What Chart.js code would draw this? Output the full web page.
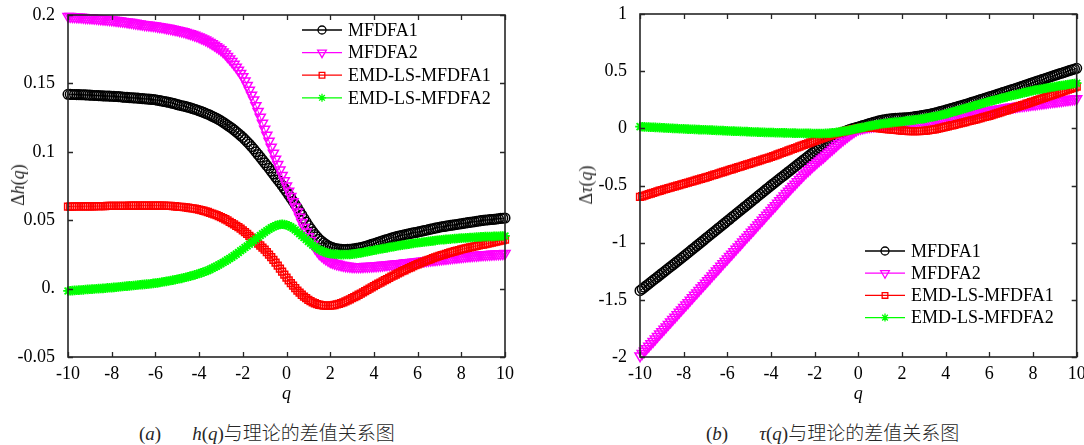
<!DOCTYPE html>
<html>
<head>
<meta charset="utf-8">
<script src="https://cdn.jsdelivr.net/npm/chart.js@4.4.1/dist/chart.umd.min.js"></script>
<style>
  html, body { margin: 0; padding: 0; background: #fff; }
  #wrap { position: relative; width: 1084px; height: 445px; overflow: hidden;
          font-family: 'Liberation Serif', 'Times New Roman', serif; color: #262626; }
  #wrap canvas { position: absolute; top: 0; }
  .ytitle { position: absolute; font-size: 18px; white-space: nowrap; line-height: 1;
            transform: translate(-50%, -50%) rotate(-90deg); }
  .cap { position: absolute; top: 420px; font-size: 19px; white-space: nowrap; line-height: 24px; }
  .cap .gap { display: inline-block; width: 31px; }
  .cap .zh { font-family: 'Noto Sans CJK SC', sans-serif; font-size: 19px; font-weight: 300; }
</style>
</head>
<body>
<div id="wrap">
  <canvas id="ch-h" width="530" height="403" style="left:0"></canvas>
  <canvas id="ch-tau" width="544" height="403" style="left:540px"></canvas>

  <div class="ytitle" style="left:18px;top:185px">Δ<i>h</i>(<i>q</i>)</div>
  <div class="ytitle" style="left:586px;top:185px">Δ<i>τ</i>(<i>q</i>)</div>

  <div class="cap" style="left:139px">(<i>a</i>)<span class="gap"></span><i>h</i>(<i>q</i>)<span class="zh">与理论的差值关系图</span></div>
  <div class="cap" style="left:706px">(<i>b</i>)<span class="gap"></span><i>τ</i>(<i>q</i>)<span class="zh">与理论的差值关系图</span></div>
</div>

<script>
// ── data ────────────────────────────────────────────────────────────────────
const seriesNames = ['MFDFA1', 'MFDFA2', 'EMD-LS-MFDFA1', 'EMD-LS-MFDFA2'];

// q = -10 … 10, one row per unit
const qValues = [
  -10,-9.9,-9.8,-9.7,-9.6,-9.5,-9.4,-9.3,-9.2,-9.1,
  -9,-8.9,-8.8,-8.7,-8.6,-8.5,-8.4,-8.3,-8.2,-8.1,
  -8,-7.9,-7.8,-7.7,-7.6,-7.5,-7.4,-7.3,-7.2,-7.1,
  -7,-6.9,-6.8,-6.7,-6.6,-6.5,-6.4,-6.3,-6.2,-6.1,
  -6,-5.9,-5.8,-5.7,-5.6,-5.5,-5.4,-5.3,-5.2,-5.1,
  -5,-4.9,-4.8,-4.7,-4.6,-4.5,-4.4,-4.3,-4.2,-4.1,
  -4,-3.9,-3.8,-3.7,-3.6,-3.5,-3.4,-3.3,-3.2,-3.1,
  -3,-2.9,-2.8,-2.7,-2.6,-2.5,-2.4,-2.3,-2.2,-2.1,
  -2,-1.9,-1.8,-1.7,-1.6,-1.5,-1.4,-1.3,-1.2,-1.1,
  -1,-0.9,-0.8,-0.7,-0.6,-0.5,-0.4,-0.3,-0.2,-0.1,
  0,0.1,0.2,0.3,0.4,0.5,0.6,0.7,0.8,0.9,
  1,1.1,1.2,1.3,1.4,1.5,1.6,1.7,1.8,1.9,
  2,2.1,2.2,2.3,2.4,2.5,2.6,2.7,2.8,2.9,
  3,3.1,3.2,3.3,3.4,3.5,3.6,3.7,3.8,3.9,
  4,4.1,4.2,4.3,4.4,4.5,4.6,4.7,4.8,4.9,
  5,5.1,5.2,5.3,5.4,5.5,5.6,5.7,5.8,5.9,
  6,6.1,6.2,6.3,6.4,6.5,6.6,6.7,6.8,6.9,
  7,7.1,7.2,7.3,7.4,7.5,7.6,7.7,7.8,7.9,
  8,8.1,8.2,8.3,8.4,8.5,8.6,8.7,8.8,8.9,
  9,9.1,9.2,9.3,9.4,9.5,9.6,9.7,9.8,9.9,
  10
];

// Δh(q)
const hMFDFA1 = [
  .1420,.1420,.1419,.1419,.1418,.1418,.1417,.1417,.1416,.1415,
  .1414,.1413,.1412,.1412,.1411,.1410,.1409,.1408,.1408,.1407,
  .1406,.1405,.1404,.1403,.1402,.1400,.1399,.1398,.1396,.1395,
  .1394,.1393,.1392,.1390,.1389,.1388,.1386,.1385,.1383,.1382,
  .1380,.1377,.1374,.1371,.1368,.1365,.1362,.1358,.1354,.1350,
  .1345,.1341,.1337,.1334,.1330,.1326,.1321,.1316,.1311,.1306,
  .1300,.1294,.1288,.1281,.1275,.1268,.1260,.1252,.1244,.1235,
  .1226,.1216,.1205,.1194,.1183,.1172,.1159,.1146,.1133,.1119,
  .1105,.1089,.1073,.1056,.1038,.1020,.1000,.0980,.0960,.0940,
  .0920,.0900,.0880,.0858,.0837,.0815,.0795,.0775,.0754,.0732,
  .0710,.0686,.0662,.0638,.0614,.0590,.0564,.0538,.0512,.0486,
  .0460,.0438,.0416,.0396,.0378,.0360,.0347,.0334,.0323,.0313,
  .0305,.0300,.0295,.0291,.0289,.0287,.0286,.0286,.0287,.0288,
  .0289,.0291,.0294,.0297,.0300,.0303,.0308,.0313,.0318,.0323,
  .0328,.0333,.0339,.0344,.0349,.0354,.0359,.0364,.0369,.0374,
  .0379,.0383,.0386,.0390,.0393,.0397,.0400,.0404,.0407,.0410,
  .0413,.0417,.0420,.0424,.0427,.0431,.0435,.0438,.0442,.0445,
  .0449,.0452,.0454,.0457,.0459,.0462,.0464,.0467,.0469,.0472,
  .0474,.0477,.0479,.0482,.0484,.0487,.0489,.0492,.0494,.0497,
  .0499,.0501,.0502,.0504,.0505,.0507,.0509,.0511,.0513,.0514,
  .0516
];
const hMFDFA2 = [
  .1990,.1989,.1988,.1987,.1986,.1985,.1984,.1983,.1981,.1980,
  .1979,.1978,.1976,.1975,.1973,.1972,.1970,.1969,.1967,.1966,
  .1964,.1962,.1960,.1958,.1956,.1954,.1952,.1950,.1947,.1945,
  .1942,.1940,.1937,.1935,.1932,.1930,.1928,.1926,.1924,.1922,
  .1920,.1917,.1914,.1912,.1909,.1906,.1903,.1900,.1896,.1893,
  .1890,.1886,.1882,.1878,.1873,.1868,.1863,.1858,.1852,.1846,
  .1840,.1833,.1826,.1818,.1809,.1800,.1790,.1780,.1769,.1758,
  .1746,.1731,.1716,.1697,.1679,.1660,.1640,.1619,.1596,.1573,
  .1550,.1518,.1485,.1450,.1415,.1380,.1338,.1296,.1253,.1209,
  .1165,.1121,.1077,.1034,.0990,.0947,.0907,.0867,.0828,.0789,
  .0750,.0712,.0674,.0636,.0598,.0560,.0522,.0484,.0448,.0414,
  .0380,.0352,.0324,.0298,.0276,.0255,.0241,.0228,.0216,.0206,
  .0197,.0191,.0185,.0180,.0176,.0172,.0169,.0166,.0164,.0162,
  .0161,.0160,.0160,.0160,.0160,.0161,.0162,.0162,.0163,.0164,
  .0165,.0166,.0168,.0169,.0171,.0172,.0174,.0175,.0177,.0178,
  .0180,.0182,.0183,.0185,.0187,.0189,.0190,.0192,.0194,.0195,
  .0197,.0199,.0201,.0202,.0204,.0206,.0208,.0210,.0211,.0213,
  .0215,.0217,.0219,.0220,.0222,.0224,.0226,.0228,.0229,.0231,
  .0233,.0235,.0236,.0238,.0239,.0241,.0242,.0243,.0245,.0246,
  .0247,.0248,.0249,.0250,.0251,.0252,.0253,.0254,.0255,.0256,
  .0257
];
const hEMD1 = [
  .0600,.0600,.0600,.0601,.0601,.0601,.0601,.0601,.0602,.0602,
  .0602,.0602,.0602,.0603,.0603,.0603,.0603,.0603,.0604,.0604,
  .0604,.0604,.0604,.0605,.0605,.0605,.0605,.0605,.0606,.0606,
  .0606,.0606,.0606,.0607,.0607,.0607,.0607,.0607,.0607,.0607,
  .0607,.0607,.0606,.0606,.0606,.0605,.0604,.0604,.0603,.0602,
  .0600,.0598,.0597,.0595,.0593,.0591,.0589,.0587,.0584,.0581,
  .0578,.0574,.0569,.0565,.0560,.0554,.0548,.0543,.0537,.0530,
  .0523,.0515,.0507,.0498,.0488,.0479,.0469,.0459,.0449,.0438,
  .0426,.0413,.0400,.0386,.0372,.0358,.0344,.0329,.0315,.0300,
  .0285,.0267,.0249,.0230,.0210,.0190,.0168,.0146,.0124,.0102,
  .0080,.0060,.0040,.0021,.0003,-.0015,-.0030,-.0045,-.0058,-.0070,
  -.0082,-.0091,-.0100,-.0107,-.0113,-.0118,-.0121,-.0124,-.0125,-.0125,
  -.0125,-.0123,-.0120,-.0116,-.0111,-.0106,-.0100,-.0093,-.0086,-.0078,
  -.0070,-.0062,-.0054,-.0045,-.0036,-.0028,-.0019,-.0009,.0000,.0009,
  .0018,.0027,.0036,.0044,.0053,.0062,.0070,.0079,.0087,.0095,
  .0103,.0111,.0119,.0127,.0134,.0142,.0149,.0156,.0164,.0171,
  .0178,.0184,.0191,.0197,.0204,.0210,.0216,.0222,.0228,.0233,
  .0239,.0244,.0249,.0254,.0259,.0264,.0268,.0273,.0277,.0282,
  .0286,.0290,.0294,.0298,.0301,.0305,.0309,.0312,.0316,.0319,
  .0322,.0326,.0329,.0333,.0336,.0340,.0344,.0347,.0351,.0354,
  .0358
];
const hEMD2 = [
  -.0017,-.0016,-.0015,-.0013,-.0012,-.0011,-.0010,-.0009,-.0007,-.0006,
  -.0005,-.0004,-.0003,-.0001,.0000,.0001,.0002,.0003,.0005,.0006,
  .0007,.0009,.0010,.0012,.0013,.0015,.0017,.0018,.0020,.0021,
  .0023,.0025,.0026,.0028,.0029,.0031,.0033,.0034,.0036,.0038,
  .0040,.0042,.0045,.0048,.0050,.0053,.0056,.0059,.0062,.0065,
  .0068,.0072,.0075,.0079,.0083,.0087,.0091,.0096,.0100,.0105,
  .0110,.0115,.0121,.0127,.0133,.0140,.0148,.0156,.0164,.0173,
  .0182,.0191,.0200,.0210,.0220,.0230,.0241,.0252,.0264,.0276,
  .0288,.0300,.0312,.0324,.0337,.0350,.0363,.0376,.0388,.0400,
  .0412,.0423,.0434,.0444,.0452,.0460,.0465,.0469,.0470,.0469,
  .0465,.0459,.0451,.0441,.0429,.0415,.0401,.0387,.0373,.0359,
  .0345,.0331,.0318,.0306,.0295,.0285,.0277,.0270,.0263,.0259,
  .0255,.0253,.0251,.0250,.0249,.0248,.0248,.0249,.0249,.0250,
  .0252,.0254,.0256,.0259,.0261,.0264,.0267,.0270,.0274,.0277,
  .0280,.0283,.0286,.0289,.0292,.0295,.0298,.0301,.0304,.0307,
  .0310,.0313,.0315,.0318,.0320,.0323,.0325,.0328,.0330,.0333,
  .0335,.0337,.0339,.0341,.0343,.0345,.0347,.0349,.0351,.0353,
  .0355,.0357,.0358,.0360,.0361,.0362,.0364,.0365,.0366,.0368,
  .0369,.0370,.0371,.0372,.0373,.0374,.0375,.0376,.0377,.0378,
  .0379,.0380,.0380,.0381,.0381,.0382,.0383,.0383,.0384,.0384,
  .0385
];

// Δτ(q)
const tMFDFA1 = [
  -1.420,-1.405,-1.390,-1.375,-1.360,-1.345,-1.330,-1.315,-1.300,-1.285,
  -1.270,-1.255,-1.240,-1.225,-1.210,-1.195,-1.180,-1.165,-1.150,-1.135,
  -1.120,-1.105,-1.089,-1.074,-1.058,-1.043,-1.027,-1.012,-0.996,-0.981,
  -0.965,-0.950,-0.934,-0.919,-0.903,-0.888,-0.872,-0.857,-0.841,-0.826,
  -0.810,-0.795,-0.779,-0.764,-0.748,-0.733,-0.717,-0.702,-0.686,-0.671,
  -0.655,-0.640,-0.624,-0.609,-0.593,-0.578,-0.562,-0.547,-0.531,-0.516,
  -0.500,-0.485,-0.470,-0.455,-0.440,-0.425,-0.410,-0.395,-0.380,-0.365,
  -0.350,-0.335,-0.320,-0.305,-0.290,-0.275,-0.260,-0.245,-0.230,-0.215,
  -0.200,-0.185,-0.170,-0.155,-0.140,-0.126,-0.112,-0.099,-0.086,-0.074,
  -0.062,-0.052,-0.042,-0.033,-0.025,-0.018,-0.011,-0.005,0.001,0.006,
  0.012,0.018,0.024,0.029,0.035,0.041,0.047,0.053,0.058,0.063,
  0.068,0.072,0.075,0.078,0.081,0.083,0.085,0.087,0.088,0.089,
  0.090,0.092,0.093,0.095,0.097,0.099,0.102,0.105,0.108,0.111,
  0.114,0.118,0.121,0.125,0.129,0.134,0.139,0.144,0.149,0.154,
  0.159,0.165,0.170,0.176,0.181,0.187,0.193,0.198,0.204,0.209,
  0.215,0.221,0.227,0.233,0.239,0.245,0.251,0.257,0.263,0.269,
  0.275,0.281,0.287,0.293,0.299,0.305,0.312,0.318,0.324,0.330,
  0.336,0.342,0.349,0.355,0.362,0.368,0.374,0.381,0.387,0.394,
  0.400,0.406,0.413,0.419,0.426,0.432,0.438,0.445,0.451,0.458,
  0.464,0.470,0.476,0.482,0.488,0.495,0.501,0.507,0.513,0.519,
  0.525
];
const tMFDFA2 = [
  -1.990,-1.969,-1.948,-1.926,-1.905,-1.884,-1.863,-1.842,-1.820,-1.799,
  -1.778,-1.757,-1.736,-1.714,-1.693,-1.672,-1.651,-1.630,-1.608,-1.587,
  -1.566,-1.545,-1.524,-1.502,-1.481,-1.460,-1.439,-1.418,-1.396,-1.375,
  -1.354,-1.333,-1.312,-1.290,-1.269,-1.248,-1.227,-1.206,-1.184,-1.163,
  -1.142,-1.121,-1.100,-1.078,-1.057,-1.036,-1.015,-0.994,-0.972,-0.951,
  -0.930,-0.909,-0.888,-0.866,-0.845,-0.824,-0.803,-0.782,-0.760,-0.739,
  -0.718,-0.697,-0.676,-0.654,-0.633,-0.612,-0.591,-0.570,-0.549,-0.529,
  -0.508,-0.488,-0.467,-0.447,-0.428,-0.408,-0.389,-0.370,-0.352,-0.334,
  -0.317,-0.300,-0.284,-0.268,-0.252,-0.235,-0.218,-0.201,-0.184,-0.167,
  -0.150,-0.133,-0.117,-0.101,-0.086,-0.070,-0.056,-0.042,-0.029,-0.017,
  -0.006,-0.001,0.004,0.008,0.012,0.015,0.018,0.021,0.025,0.028,
  0.030,0.032,0.034,0.036,0.038,0.040,0.042,0.044,0.046,0.048,
  0.050,0.052,0.054,0.056,0.058,0.060,0.062,0.064,0.066,0.068,
  0.070,0.072,0.075,0.077,0.080,0.082,0.084,0.087,0.090,0.092,
  0.095,0.098,0.101,0.104,0.107,0.110,0.113,0.116,0.119,0.122,
  0.125,0.128,0.131,0.134,0.137,0.140,0.143,0.146,0.149,0.152,
  0.155,0.158,0.161,0.164,0.167,0.170,0.173,0.176,0.179,0.182,
  0.185,0.188,0.190,0.193,0.195,0.198,0.200,0.203,0.205,0.208,
  0.210,0.212,0.215,0.218,0.220,0.223,0.225,0.228,0.230,0.233,
  0.235,0.237,0.240,0.242,0.245,0.248,0.250,0.252,0.255,0.257,
  0.260
];
const tEMD1 = [
  -0.600,-0.594,-0.588,-0.582,-0.576,-0.570,-0.564,-0.558,-0.552,-0.546,
  -0.540,-0.534,-0.529,-0.523,-0.518,-0.512,-0.507,-0.501,-0.496,-0.490,
  -0.485,-0.479,-0.474,-0.468,-0.463,-0.458,-0.452,-0.447,-0.441,-0.436,
  -0.430,-0.424,-0.418,-0.412,-0.406,-0.400,-0.394,-0.388,-0.382,-0.376,
  -0.370,-0.364,-0.358,-0.352,-0.346,-0.340,-0.334,-0.328,-0.322,-0.316,
  -0.310,-0.304,-0.298,-0.292,-0.286,-0.280,-0.274,-0.268,-0.262,-0.256,
  -0.250,-0.243,-0.236,-0.229,-0.222,-0.215,-0.208,-0.201,-0.194,-0.187,
  -0.180,-0.173,-0.166,-0.159,-0.152,-0.145,-0.138,-0.131,-0.124,-0.117,
  -0.110,-0.103,-0.096,-0.090,-0.083,-0.077,-0.070,-0.064,-0.058,-0.051,
  -0.045,-0.040,-0.034,-0.029,-0.024,-0.019,-0.015,-0.010,-0.006,-0.002,
  0.001,0.003,0.005,0.006,0.007,0.007,0.007,0.006,0.004,0.002,
  0.000,-0.002,-0.004,-0.006,-0.008,-0.010,-0.012,-0.014,-0.016,-0.017,
  -0.019,-0.021,-0.022,-0.024,-0.025,-0.025,-0.025,-0.025,-0.024,-0.023,
  -0.022,-0.020,-0.017,-0.014,-0.011,-0.009,-0.005,-0.001,0.004,0.009,
  0.014,0.018,0.023,0.027,0.031,0.036,0.041,0.046,0.050,0.055,
  0.060,0.065,0.070,0.074,0.079,0.084,0.089,0.095,0.100,0.105,
  0.110,0.116,0.122,0.128,0.134,0.140,0.146,0.152,0.158,0.164,
  0.170,0.176,0.183,0.189,0.196,0.202,0.208,0.215,0.221,0.228,
  0.234,0.240,0.247,0.254,0.260,0.267,0.273,0.280,0.287,0.293,
  0.300,0.306,0.313,0.319,0.326,0.332,0.339,0.345,0.352,0.358,
  0.365
];
const tEMD2 = [
  0.015,0.014,0.013,0.012,0.011,0.010,0.009,0.008,0.007,0.006,
  0.005,0.004,0.003,0.002,0.001,0.000,-0.001,-0.002,-0.003,-0.004,
  -0.005,-0.006,-0.007,-0.008,-0.008,-0.009,-0.010,-0.011,-0.012,-0.012,
  -0.013,-0.014,-0.015,-0.016,-0.017,-0.018,-0.019,-0.019,-0.020,-0.021,
  -0.022,-0.023,-0.024,-0.024,-0.025,-0.026,-0.027,-0.028,-0.028,-0.029,
  -0.030,-0.031,-0.032,-0.032,-0.033,-0.034,-0.034,-0.035,-0.036,-0.036,
  -0.037,-0.037,-0.038,-0.038,-0.039,-0.039,-0.040,-0.040,-0.041,-0.041,
  -0.042,-0.042,-0.043,-0.043,-0.043,-0.044,-0.044,-0.044,-0.044,-0.045,
  -0.045,-0.045,-0.045,-0.045,-0.045,-0.044,-0.043,-0.042,-0.040,-0.038,
  -0.035,-0.032,-0.029,-0.026,-0.023,-0.020,-0.016,-0.012,-0.008,-0.004,
  0.000,0.004,0.008,0.012,0.016,0.020,0.024,0.027,0.031,0.034,
  0.038,0.040,0.043,0.045,0.048,0.050,0.052,0.054,0.056,0.058,
  0.060,0.062,0.065,0.067,0.070,0.072,0.074,0.077,0.079,0.082,
  0.085,0.089,0.093,0.097,0.100,0.104,0.108,0.112,0.116,0.121,
  0.125,0.131,0.136,0.142,0.147,0.153,0.158,0.164,0.169,0.175,
  0.180,0.186,0.191,0.197,0.202,0.208,0.213,0.219,0.224,0.230,
  0.235,0.240,0.245,0.250,0.255,0.260,0.265,0.270,0.275,0.280,
  0.285,0.290,0.294,0.299,0.303,0.308,0.312,0.317,0.321,0.326,
  0.330,0.334,0.337,0.341,0.344,0.348,0.351,0.355,0.358,0.362,
  0.365,0.368,0.371,0.374,0.377,0.380,0.383,0.386,0.389,0.392,
  0.395
];

// ticks
const qTicks        = [-10, -8, -6, -4, -2, 0, 2, 4, 6, 8, 10];
const hTicks        = [-0.05, 0, 0.05, 0.1, 0.15, 0.2];
const hTickLabels   = ['-0.05', '0.', '0.05', '0.1', '0.15', '0.2'];
const tauTicks      = [-2, -1.5, -1, -0.5, 0, 0.5, 1];
const tauTickLabels = ['-2', '-1.5', '-1', '-0.5', '0', '0.5', '1'];

// ── styles ──────────────────────────────────────────────────────────────────
const COLORS  = ['#000000', '#ff00ff', '#ff0000', '#00ff00'];
const MARKERS = [
  { style: 'circle',   rot: 0,   r: 4.8 },
  { style: 'triangle', rot: 180, r: 5.8 },
  { style: 'rect',     rot: 0,   r: 4.8 },
  { style: 'star',     rot: 0,   r: 4.8 }
];
const FONT_FAMILY = "'Liberation Serif', 'Times New Roman', serif";
const AXIS_COLOR  = '#262626';

function _series(i, vals) {
  const m = MARKERS[i];
  return {
    label: seriesNames[i],
    data: qValues.map((q, k) => ({ x: q, y: vals[k] })),
    showLine: true, tension: 0,
    borderColor: COLORS[i], borderWidth: 1,
    backgroundColor: 'rgba(0,0,0,0)',
    pointStyle: m.style, pointRotation: m.rot, pointRadius: m.r,
    pointBorderColor: COLORS[i], pointBackgroundColor: 'rgba(0,0,0,0)',
    pointBorderWidth: i === 3 ? 1.8 : 1.5,
    clip: false,
    order: 3 - i   // green ends up on top, as in the plot order
  };
}

// box + inward tick marks
const framePlugin = {
  id: 'frame',
  afterDatasetsDraw(chart) {
    const { ctx, chartArea: a, scales: { x, y } } = chart;
    ctx.save();
    ctx.strokeStyle = AXIS_COLOR;
    ctx.lineWidth = 1.6;
    ctx.strokeRect(a.left, a.top, a.right - a.left, a.bottom - a.top);
    ctx.lineWidth = 1.3;
    ctx.beginPath();
    x.ticks.forEach(t => {
      const px = Math.round(x.getPixelForValue(t.value)) + 0.5;
      ctx.moveTo(px, a.bottom); ctx.lineTo(px, a.bottom - 5);
      ctx.moveTo(px, a.top);    ctx.lineTo(px, a.top + 5);
    });
    y.ticks.forEach(t => {
      const py = Math.round(y.getPixelForValue(t.value)) + 0.5;
      ctx.moveTo(a.left, py);  ctx.lineTo(a.left + 5, py);
      ctx.moveTo(a.right, py); ctx.lineTo(a.right - 5, py);
    });
    ctx.stroke();
    ctx.restore();
  }
};

// legend: short line with marker in the middle, then the name
const legendPlugin = {
  id: 'miniLegend',
  afterDraw(chart, args, opts) {
    const ctx = chart.ctx;
    ctx.save();
    chart.data.datasets.forEach((ds, i) => {
      const y = opts.y + i * opts.dy;
      ctx.strokeStyle = ds.borderColor;
      ctx.fillStyle = 'rgba(0,0,0,0)';
      ctx.lineWidth = 1.3;
      ctx.beginPath();
      ctx.moveTo(opts.x, y); ctx.lineTo(opts.x + 40, y);
      ctx.stroke();
      Chart.helpers.drawPoint(ctx, {
        pointStyle: ds.pointStyle, rotation: ds.pointRotation,
        radius: MARKERS[i].r - 0.8, borderWidth: 1.3
      }, opts.x + 20, y);
      ctx.fillStyle = '#000';
      ctx.font = '18px ' + FONT_FAMILY;
      ctx.textBaseline = 'middle';
      ctx.textAlign = 'left';
      ctx.fillText(ds.label, opts.x + 46, y + 1);
    });
    ctx.restore();
  }
};

function _mkPanel(id, sets, yMin, yMax, yTicks, yLabels, cfg) {
  const tickFont = { family: FONT_FAMILY, size: 18 };
  return new Chart(document.getElementById(id), {
    type: 'scatter',
    data: { datasets: sets },
    plugins: [framePlugin, legendPlugin],
    options: {
      responsive: false, animation: false, devicePixelRatio: 1,
      events: [],
      layout: { padding: { top: cfg.top, right: cfg.right, left: 0, bottom: 0 } },
      plugins: {
        legend: { display: false },
        tooltip: { enabled: false },
        miniLegend: cfg.legend
      },
      scales: {
        x: {
          type: 'linear', min: -10, max: 10,
          afterBuildTicks: s => { s.ticks = qTicks.map(v => ({ value: v })); },
          afterFit: s => { s.height = 46; s.paddingLeft = 0; s.paddingRight = 0; },
          grid: { display: false }, border: { display: false },
          ticks: { font: tickFont, color: '#000', padding: -2, maxRotation: 0, autoSkip: false },
          title: { display: true, text: 'q', color: '#000', padding: { top: 0, bottom: -2 },
                   font: { family: FONT_FAMILY, size: 18, style: 'italic' } }
        },
        y: {
          type: 'linear', min: yMin, max: yMax,
          afterBuildTicks: s => { s.ticks = yTicks.map(v => ({ value: v })); },
          afterFit: s => { s.width = cfg.yWidth; s.paddingTop = 0; s.paddingBottom = 0; },
          grid: { display: false }, border: { display: false },
          ticks: { font: tickFont, color: '#000', padding: cfg.yPad, autoSkip: false,
                   callback: v => yLabels[yTicks.indexOf(v)] }
        }
      }
    }
  });
}

_mkPanel('ch-h',
  [_series(0, hMFDFA1), _series(1, hMFDFA2), _series(2, hEMD1), _series(3, hEMD2)],
  -0.05, 0.2, hTicks, hTickLabels,
  { top: 15, right: 25, yWidth: 68, yPad: 5, legend: { x: 302, y: 30, dy: 22.6 } });

_mkPanel('ch-tau',
  [_series(0, tMFDFA1), _series(1, tMFDFA2), _series(2, tEMD1), _series(3, tEMD2)],
  -2, 1, tauTicks, tauTickLabels,
  { top: 14, right: 7, yWidth: 100, yPad: 5, legend: { x: 325, y: 251, dy: 22.2 } });
</script>
</body>
</html>
